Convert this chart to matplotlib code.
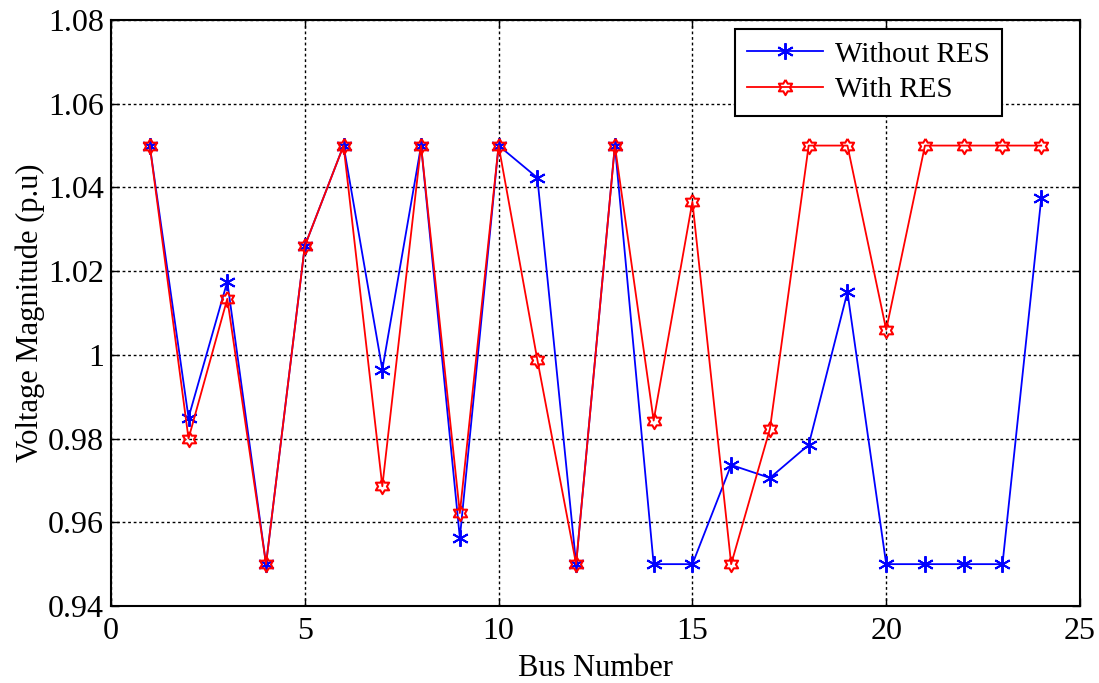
import numpy as np
import matplotlib
matplotlib.use('Agg')
import matplotlib.pyplot as plt

bus = list(range(1, 25))
without_res = [1.05, 0.985, 1.0175, 0.95, 1.026, 1.05, 0.9965, 1.05, 0.9563, 1.05,
               1.0423, 0.95, 1.05, 0.95, 0.95, 0.9737, 0.9706, 0.9785, 1.015, 0.95,
               0.95, 0.95, 0.95, 1.0374]
with_res = [1.05, 0.98, 1.0134, 0.95, 1.026, 1.05, 0.9686, 1.05, 0.9622, 1.05,
            0.9988, 0.95, 1.05, 0.9843, 1.0366, 0.95, 0.9823, 1.05, 1.05, 1.006,
            1.05, 1.05, 1.05, 1.05]

plt.rcParams['font.family'] = ['Liberation Serif', 'DejaVu Serif']

# hexagram marker (two overlapping triangles)
ang = np.pi / 2 + np.arange(12) * np.pi / 6
rad = np.where(np.arange(12) % 2 == 0, 1.0, 1 / np.sqrt(3))
hexagram = list(zip(rad * np.cos(ang), rad * np.sin(ang)))
hexagram.append(hexagram[0])

fig = plt.figure(figsize=(10.99, 6.83), dpi=100)
ax = fig.add_axes([111 / 1099, 77 / 683, 969 / 1099, 586 / 683])

l1, = ax.plot(bus, without_res, color='blue', lw=1.3, marker=(6, 2, 0),
              markersize=12, markeredgewidth=1.4, label='Without RES')
l2, = ax.plot(bus, with_res, color='red', lw=1.3, marker=hexagram, markersize=11,
              markerfacecolor='none', markeredgecolor='red', markeredgewidth=1.5,
              label='With RES')

leg = ax.legend(loc='upper right', fontsize=21, fancybox=False,
                edgecolor='black', framealpha=1, handlelength=2.6,
                borderpad=0.42, labelspacing=0.32, handletextpad=0.4,
                borderaxespad=0, bbox_to_anchor=(0.9195, 0.9846))
leg.get_frame().set_linewidth(1.5)

ax.set_xlim(0, 25)
ax.set_ylim(0.94, 1.08)
ax.set_xticks([0, 5, 10, 15, 20, 25])
ax.set_yticks(np.arange(0.94, 1.0801, 0.02))
ax.set_yticklabels(['0.94', '0.96', '0.98', '1', '1.02', '1.04', '1.06', '1.08'])
ax.grid(True, color='black', linestyle=(0, (2, 2)), linewidth=1.0)
ax.tick_params(direction='in', labelsize=23, length=6, width=1, top=True,
               right=True)
ax.tick_params(axis='x', pad=8)
ax.tick_params(axis='y', pad=5)
for s in ax.spines.values():
    s.set_linewidth(1.5)

ax.set_xlabel('Bus Number', fontsize=22, labelpad=6)
ax.set_ylabel('Voltage Magnitude (p.u)', fontsize=22, labelpad=2)

fig.savefig('out.png', dpi=100)
